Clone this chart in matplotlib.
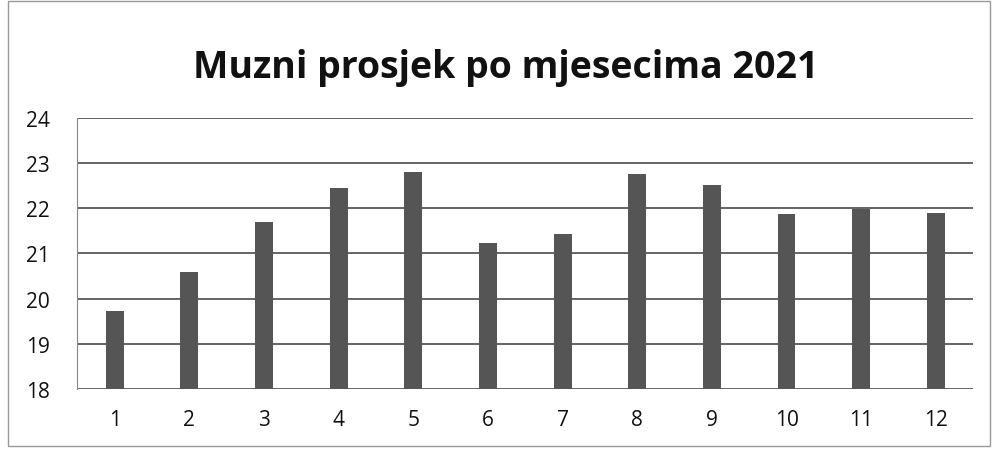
import matplotlib.pyplot as plt
from matplotlib.patches import Rectangle

# mjesec i prosjek mlijeka
mjeseci = ['1', '2', '3', '4', '5', '6', '7', '8', '9', '10', '11', '12']
prosjek = [19.72, 20.58, 21.7, 22.45, 22.8, 21.24, 21.43, 22.75, 22.51, 21.87, 21.99, 21.9]
y_ticks = [18, 19, 20, 21, 22, 23, 24]

plt.rcParams['font.family'] = ['Open Sans', 'DejaVu Sans']

fig = plt.figure(figsize=(9.92, 4.52), dpi=100)
ax = fig.add_axes([0.078, 0.137, 0.903, 0.6])

x = range(len(mjeseci))
ax.bar(x, prosjek, width=0.24, color='#555555', zorder=3)

ax.set_ylim(18, 24)
ax.set_yticks(y_ticks)
ax.set_xlim(-0.5, len(mjeseci) - 0.5)
ax.set_xticks(list(x))
ax.set_xticklabels(mjeseci)
ax.grid(axis='y', color='#3a3a3a', linewidth=1.1, zorder=0)
ax.tick_params(length=0, labelsize=15, colors='#111111')
ax.tick_params(axis='x', pad=14)
ax.tick_params(axis='y', pad=20)
for s in ['top', 'right', 'bottom']:
    ax.spines[s].set_visible(False)
ax.spines['left'].set_color('#888888')
ax.spines['left'].set_linewidth(0.8)

fig.text(0.51, 0.85, 'Muzni prosjek po mjesecima 2021', ha='center', va='center',
         fontsize=27, fontweight='bold', color='#111111')

# okvir grafa
fig.patches.append(Rectangle((0.008, 0.01), 0.99, 0.985, transform=fig.transFigure,
                             fill=False, edgecolor='#999999', linewidth=1.0))

fig.savefig('out.png', dpi=100)
